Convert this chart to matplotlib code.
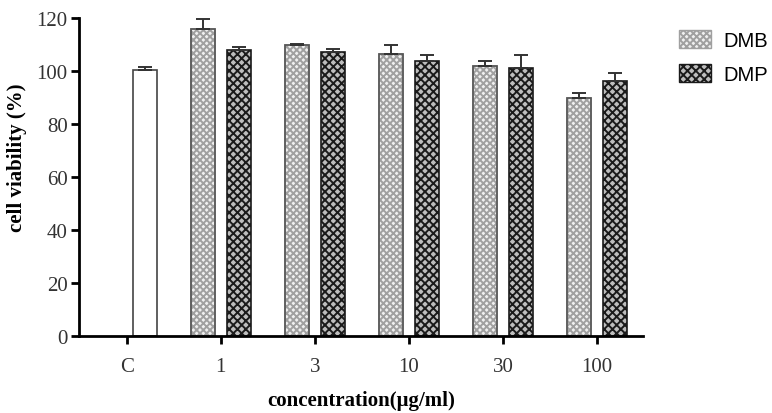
import numpy as np
from matplotlib import pyplot as plt
from matplotlib.patches import Patch

# cell viability (%)
groups = ["C", "1", "3", "10", "30", "100"]
control = 100.4
controlErr = 1.1
dmb = [115.8, 109.8, 106.3, 102.0, 89.7]
dmbErr = [3.8, 0.4, 3.4, 1.6, 1.9]
dmp = [108.0, 107.3, 103.9, 101.0, 96.3]
dmpErr = [1.2, 1.1, 2.0, 4.9, 2.9]

plt.rcParams['hatch.linewidth'] = 1.4

fig = plt.figure(figsize=(7.72, 4.14), dpi=100)
ax = fig.add_axes([0.102, 0.186, 0.731, 0.768])

x = np.arange(len(groups))
w = 0.255
off = 0.19
errStyle = dict(ecolor='#333333', elinewidth=1.4, capsize=5, capthick=1.4)

dmbStyle = dict(facecolor='#f0f0f0', edgecolor='#a0a0a0', hatch='xxxxx')
dmpStyle = dict(facecolor='#bdbdbd', edgecolor='#1a1a1a', hatch='xxxx')

ax.bar(x[0] + off, control, w, color='white', edgecolor='#444444', linewidth=1.2,
       yerr=[[0], [controlErr]], error_kw=errStyle)
ax.bar(x[1:] - off, dmb, w, linewidth=1.2, yerr=[np.zeros(5), dmbErr],
       error_kw=errStyle, **dmbStyle)
ax.bar(x[1:] + off, dmp, w, linewidth=1.2, yerr=[np.zeros(5), dmpErr],
       error_kw=errStyle, **dmpStyle)
# darker outlines for DMB bars
ax.bar(x[1:] - off, dmb, w, color='none', edgecolor='#555555', linewidth=1.2)

ax.set_xlim(-0.51, 5.49)
ax.set_ylim(0, 120)
ax.set_yticks(range(0, 121, 20))
ax.set_xticks(x)
ax.set_xticklabels(groups)
for s in ['top', 'right']:
    ax.spines[s].set_visible(False)
for s in ['left', 'bottom']:
    ax.spines[s].set_linewidth(2)
ax.tick_params(axis='both', width=2, length=6, labelsize=15, direction='out')
ax.tick_params(axis='x', pad=9)
ax.tick_params(axis='y', pad=2)
for lab in ax.get_xticklabels() + ax.get_yticklabels():
    lab.set_family('Liberation Serif')
    lab.set_color('#333333')

ax.set_ylabel('cell viability (%)', family='Liberation Serif', fontweight='bold', fontsize=15)
ax.yaxis.set_label_coords(-0.092, 0.563)
ax.set_xlabel('concentration(μg/ml)', family='Liberation Serif', fontweight='bold', fontsize=15,
              labelpad=10)

handles = [Patch(**dmbStyle), Patch(**dmpStyle)]
fig.legend(handles, ['DMB', 'DMP'], loc='upper left', bbox_to_anchor=(0.866, 0.95),
           frameon=False, prop={'family': 'Liberation Sans', 'size': 14.5}, borderpad=0,
           handlelength=1.6, handleheight=1.0, labelspacing=0.7, handletextpad=0.6)

fig.savefig('out.png')
